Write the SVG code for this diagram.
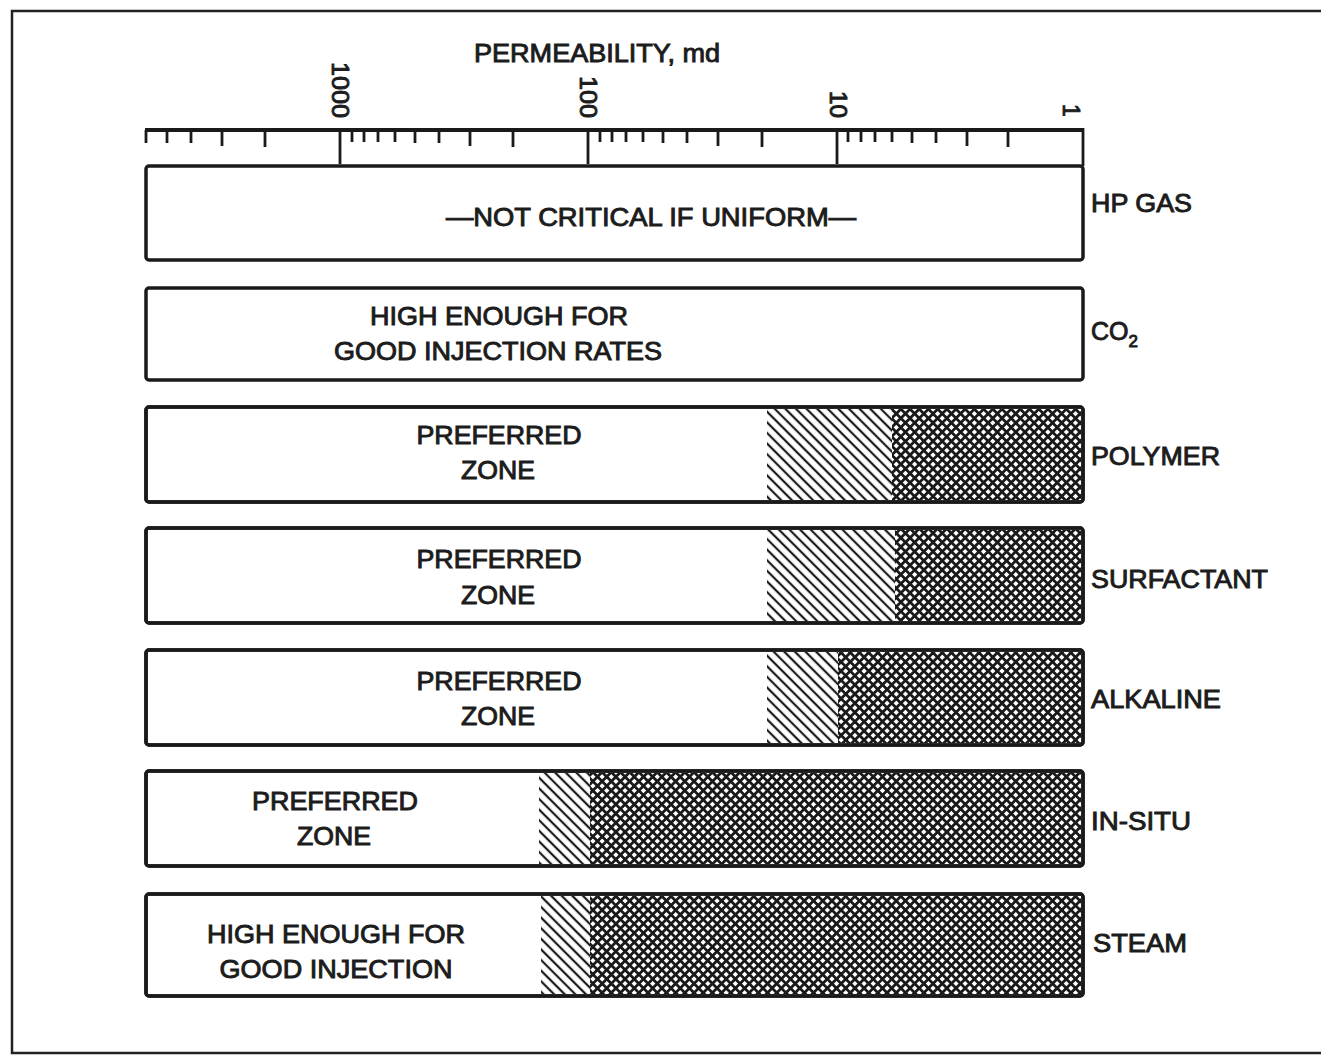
<svg xmlns="http://www.w3.org/2000/svg" width="1321" height="1055" viewBox="0 0 1321 1055">
<style>
text{font-family:"Liberation Sans",Arial,sans-serif;fill:#1c1c1c;stroke:#1c1c1c;stroke-width:0.9}
.lbl{font-size:25px}
.num{font-size:23px}
.box{fill:#fff;stroke:#1a1a1a;stroke-width:3.5}
.tick{stroke:#1a1a1a;stroke-width:2.8}
</style>
<defs>
<pattern id="hatch" patternUnits="userSpaceOnUse" width="7.5" height="7.5" patternTransform="rotate(45)">
<rect width="7.5" height="7.5" fill="#fff"/>
<line x1="0" y1="3.75" x2="7.5" y2="3.75" stroke="#1a1a1a" stroke-width="2.2"/>
</pattern>
<pattern id="cross" patternUnits="userSpaceOnUse" width="6.5" height="6.5" patternTransform="rotate(45)">
<rect width="6.5" height="6.5" fill="#fff"/>
<line x1="0" y1="3.25" x2="6.5" y2="3.25" stroke="#1a1a1a" stroke-width="2.8"/>
<line x1="3.25" y1="0" x2="3.25" y2="6.5" stroke="#1a1a1a" stroke-width="2.8"/>
</pattern>
</defs>
<rect x="0" y="0" width="1321" height="1055" fill="#fff"/>
<rect x="12" y="11" width="1330" height="1042" fill="none" stroke="#222" stroke-width="2.5"/>

<g id="axis">
<line x1="145" y1="130" x2="1084" y2="130" stroke="#1a1a1a" stroke-width="3.8"/>
<line class="tick" x1="1083" y1="128" x2="1083" y2="166"/>
<line class="tick" x1="146" y1="130" x2="146" y2="143"/>
<line class="tick" x1="340" y1="130" x2="340" y2="164"/>
<line class="tick" x1="588" y1="130" x2="588" y2="164"/>
<line class="tick" x1="837" y1="130" x2="837" y2="164"/>
<g class="tick">
<line x1="167" y1="130" x2="167" y2="143"/>
<line x1="191" y1="130" x2="191" y2="143"/>
<line x1="222" y1="130" x2="222" y2="146"/>
<line x1="265" y1="130" x2="265" y2="147"/>
<line x1="352" y1="130" x2="352" y2="142"/>
<line x1="364" y1="130" x2="364" y2="142"/>
<line x1="378" y1="130" x2="378" y2="142"/>
<line x1="395" y1="130" x2="395" y2="142"/>
<line x1="415" y1="130" x2="415" y2="143"/>
<line x1="439" y1="130" x2="439" y2="143"/>
<line x1="470" y1="130" x2="470" y2="146"/>
<line x1="513" y1="130" x2="513" y2="147"/>
<line x1="600" y1="130" x2="600" y2="142"/>
<line x1="612" y1="130" x2="612" y2="142"/>
<line x1="626" y1="130" x2="626" y2="142"/>
<line x1="643" y1="130" x2="643" y2="142"/>
<line x1="663" y1="130" x2="663" y2="143"/>
<line x1="687" y1="130" x2="687" y2="143"/>
<line x1="718" y1="130" x2="718" y2="146"/>
<line x1="762" y1="130" x2="762" y2="147"/>
<line x1="848" y1="130" x2="848" y2="142"/>
<line x1="861" y1="130" x2="861" y2="142"/>
<line x1="875" y1="130" x2="875" y2="142"/>
<line x1="892" y1="130" x2="892" y2="142"/>
<line x1="912" y1="130" x2="912" y2="143"/>
<line x1="936" y1="130" x2="936" y2="143"/>
<line x1="967" y1="130" x2="967" y2="146"/>
<line x1="1008" y1="130" x2="1008" y2="147"/>
</g>
<text class="lbl" x="597" y="62" text-anchor="middle" textLength="246" lengthAdjust="spacingAndGlyphs">PERMEABILITY, md</text>
<text class="num" transform="translate(332,62) rotate(90)" textLength="56" lengthAdjust="spacingAndGlyphs">1000</text>
<text class="num" transform="translate(580,76) rotate(90)" textLength="42" lengthAdjust="spacingAndGlyphs">100</text>
<text class="num" transform="translate(830,91) rotate(90)" textLength="27" lengthAdjust="spacingAndGlyphs">10</text>
<text class="num" transform="translate(1063,104) rotate(90)">1</text>
</g>

<g id="hp-gas">
<rect class="box" x="146" y="166" width="937" height="94" rx="3"/>
<text class="lbl" x="651" y="226" text-anchor="middle" textLength="410" lengthAdjust="spacingAndGlyphs">—NOT CRITICAL IF UNIFORM—</text>
<text class="lbl" x="1091" y="212" textLength="101" lengthAdjust="spacingAndGlyphs">HP GAS</text>
</g>

<g id="co2">
<rect class="box" x="146" y="288" width="937" height="92" rx="3"/>
<text class="lbl" x="499" y="325" text-anchor="middle" textLength="258" lengthAdjust="spacingAndGlyphs">HIGH ENOUGH FOR</text>
<text class="lbl" x="498" y="360" text-anchor="middle" textLength="328" lengthAdjust="spacingAndGlyphs">GOOD INJECTION RATES</text>
<text class="lbl" x="1091" y="340">CO<tspan font-size="17" dy="7">2</tspan></text>
</g>

<g id="polymer">
<rect class="box" x="146" y="407" width="937" height="95" rx="3"/>
<rect x="767" y="409" width="125" height="91" fill="url(#hatch)"/>
<rect x="892" y="409" width="189" height="91" fill="url(#cross)"/>
<rect x="146" y="407" width="937" height="95" rx="3" fill="none" stroke="#1a1a1a" stroke-width="3.5"/>
<text class="lbl" x="499" y="444" text-anchor="middle" textLength="165" lengthAdjust="spacingAndGlyphs">PREFERRED</text>
<text class="lbl" x="498" y="479" text-anchor="middle" textLength="74" lengthAdjust="spacingAndGlyphs">ZONE</text>
<text class="lbl" x="1091" y="465" textLength="129" lengthAdjust="spacingAndGlyphs">POLYMER</text>
</g>

<g id="surfactant">
<rect class="box" x="146" y="528" width="937" height="95" rx="3"/>
<rect x="767" y="530" width="128" height="91" fill="url(#hatch)"/>
<rect x="895" y="530" width="186" height="91" fill="url(#cross)"/>
<rect x="146" y="528" width="937" height="95" rx="3" fill="none" stroke="#1a1a1a" stroke-width="3.5"/>
<text class="lbl" x="499" y="568" text-anchor="middle" textLength="165" lengthAdjust="spacingAndGlyphs">PREFERRED</text>
<text class="lbl" x="498" y="604" text-anchor="middle" textLength="74" lengthAdjust="spacingAndGlyphs">ZONE</text>
<text class="lbl" x="1091" y="588" textLength="177" lengthAdjust="spacingAndGlyphs">SURFACTANT</text>
</g>

<g id="alkaline">
<rect class="box" x="146" y="650" width="937" height="95" rx="3"/>
<rect x="767" y="652" width="71" height="91" fill="url(#hatch)"/>
<rect x="838" y="652" width="243" height="91" fill="url(#cross)"/>
<rect x="146" y="650" width="937" height="95" rx="3" fill="none" stroke="#1a1a1a" stroke-width="3.5"/>
<text class="lbl" x="499" y="690" text-anchor="middle" textLength="165" lengthAdjust="spacingAndGlyphs">PREFERRED</text>
<text class="lbl" x="498" y="725" text-anchor="middle" textLength="74" lengthAdjust="spacingAndGlyphs">ZONE</text>
<text class="lbl" x="1091" y="708" textLength="130" lengthAdjust="spacingAndGlyphs">ALKALINE</text>
</g>

<g id="in-situ">
<rect class="box" x="146" y="771" width="937" height="95" rx="3"/>
<rect x="539" y="773" width="51" height="91" fill="url(#hatch)"/>
<rect x="590" y="773" width="491" height="91" fill="url(#cross)"/>
<rect x="146" y="771" width="937" height="95" rx="3" fill="none" stroke="#1a1a1a" stroke-width="3.5"/>
<text class="lbl" x="335" y="810" text-anchor="middle" textLength="166" lengthAdjust="spacingAndGlyphs">PREFERRED</text>
<text class="lbl" x="334" y="845" text-anchor="middle" textLength="74" lengthAdjust="spacingAndGlyphs">ZONE</text>
<text class="lbl" x="1091" y="830" textLength="100" lengthAdjust="spacingAndGlyphs">IN-SITU</text>
</g>

<g id="steam">
<rect class="box" x="146" y="894" width="937" height="102" rx="3"/>
<rect x="541" y="896" width="49" height="98" fill="url(#hatch)"/>
<rect x="590" y="896" width="491" height="98" fill="url(#cross)"/>
<rect x="146" y="894" width="937" height="102" rx="3" fill="none" stroke="#1a1a1a" stroke-width="3.5"/>
<text class="lbl" x="336" y="943" text-anchor="middle" textLength="258" lengthAdjust="spacingAndGlyphs">HIGH ENOUGH FOR</text>
<text class="lbl" x="336" y="978" text-anchor="middle" textLength="233" lengthAdjust="spacingAndGlyphs">GOOD INJECTION</text>
<text class="lbl" x="1093" y="952" textLength="94" lengthAdjust="spacingAndGlyphs">STEAM</text>
</g>
<g id="connectors"></g>
</svg>
